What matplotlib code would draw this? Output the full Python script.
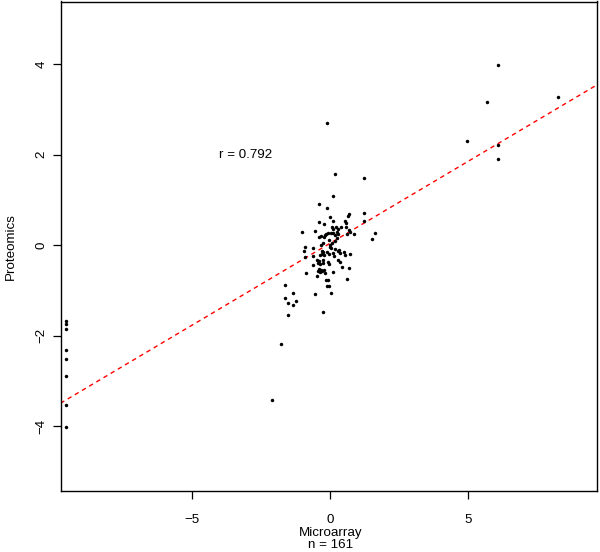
import matplotlib
matplotlib.use("Agg")
import matplotlib.pyplot as plt
import numpy as np

plt.rcParams['font.family'] = ['Liberation Sans', 'DejaVu Sans']

# Microarray (x) and Proteomics (y) values
left_x = [-9.53] * 8
left_y = [-1.67, -1.75, -1.86, -2.32, -2.51, -2.89, -3.52, -4.02]

upper_x = [6.08, 5.68, 8.22, 4.96, 6.08, 6.08]
upper_y = [3.98, 3.15, 3.27, 2.31, 2.22, 1.91]

outlier_x = [-2.09, -1.77]
outlier_y = [-3.43, -2.19]

cluster_x = [-0.10, 0.19, 1.23, 0.11, -0.39, -0.10, 1.22, 0.67, 0.65, 0.00,
             -0.39, -0.20, 0.11, 0.53, 0.58, 1.22, 0.06, 0.12, 0.20, 0.30,
             -0.55, -1.00, 0.40, 0.59, 0.67, 0.24, 0.30, 0.18, 0.12, -0.17,
             -0.23, -0.40, -0.32, 0.02, 0.71, 0.85, 0.60, 1.64, 1.52, 0.24,
             0.19, 0.08, -0.02, -0.24, -0.34, -0.90, -0.95, 0.00, 0.04, 0.19,
             0.28, 0.32, -0.12, -0.24, -0.30, -0.36, -0.20, 0.52, 0.55, 0.71,
             0.12, 0.16, -0.60, -0.91, -0.47, -0.40, -0.42, -0.35, -0.26, -0.24,
             -0.06, -0.02, 0.30, 0.35, -0.60, 0.42, -0.41, -0.34, -0.28, -0.20,
             -0.42, -0.36, 0.12, -0.88, -0.47, 0.70, 0.61, -0.14, -0.06, -0.12,
             -0.02, 0.02, -0.54, -1.62, -1.34, -1.61, -1.22, -1.53, -1.34, -1.52,
             -0.24, -0.16, -0.06, 0.00, -0.60, -0.02, 0.36, -0.18, -0.30]
cluster_y = [2.69, 1.58, 1.48, 1.08, 0.90, 0.81, 0.71, 0.69, 0.65, 0.61,
             0.50, 0.47, 0.54, 0.54, 0.48, 0.53, 0.40, 0.36, 0.40, 0.36,
             0.31, 0.29, 0.41, 0.39, 0.33, 0.29, 0.24, 0.22, 0.27, 0.22,
             0.18, 0.17, 0.20, 0.26, 0.29, 0.24, 0.24, 0.27, 0.14, 0.15,
             0.10, 0.04, 0.11, 0.04, 0.01, -0.04, -0.13, -0.04, -0.07, -0.09,
             -0.12, -0.10, -0.15, -0.16, -0.20, -0.22, -0.22, -0.16, -0.21, -0.20,
             -0.18, -0.23, -0.25, -0.27, -0.33, -0.36, -0.40, -0.42, -0.39, -0.32,
             -0.38, -0.42, -0.33, -0.37, -0.43, -0.48, -0.52, -0.55, -0.57, -0.54,
             -0.57, -0.60, -0.59, -0.62, -0.68, -0.51, -0.74, -0.77, -0.76, -0.90,
             -0.91, -1.06, -1.09, -0.89, -1.05, -1.17, -1.23, -1.27, -1.33, -1.55,
             -1.47, 0.24, 0.27, 0.00, -0.07, -0.20, -0.18, -0.61, -0.13]

fit_intercept = 0.04
fit_slope = 0.363
r_label = "r = 0.792"
x_label = "Microarray"
y_label = "Proteomics"
n_label = "n = 161"

x = np.array(left_x + upper_x + outlier_x + cluster_x)
y = np.array(left_y + upper_y + outlier_y + cluster_y)

FS = 9.6
fig = plt.figure(figsize=(6.0, 5.52), dpi=100)
ax = fig.add_axes([60.5 / 600, 1 - 491 / 552, (597 - 60.5) / 600, (491 - 1.5) / 552])

ax.plot(x, y, 'o', color='black', markersize=2.5, markeredgewidth=0, zorder=3)
ax.axline((0, fit_intercept), slope=fit_slope, color='#ff0000', lw=1.0,
          linestyle=(0, (3.2, 2.8)), zorder=2)

ax.set_xlim(-9.73, 9.64)
ax.set_ylim(-5.43, 5.38)
ax.set_xticks([-5, 0, 5])
ax.set_xticklabels(['\u22125', '0', '5'])
ax.set_yticks([-4, -2, 0, 2, 4])
ax.set_yticklabels(['\u22124', '\u22122', '0', '2', '4'], rotation=90, va='center')

for s in ax.spines.values():
    s.set_linewidth(1.0)
ax.tick_params(axis='both', direction='out', length=6, width=0.9, labelsize=FS)
ax.tick_params(axis='x', pad=10.5)
ax.tick_params(axis='y', pad=3.5)

ax.text(-3.05, 1.99, r_label, ha='center', va='center', fontsize=FS)
ax.set_ylabel(y_label, fontsize=FS, labelpad=13)

cx = (330 + 0.5) / 600
t_n = fig.text(cx, 1.0 / 552, n_label, ha='center', va='bottom', fontsize=FS)
fig.canvas.draw()
r = fig.canvas.get_renderer()
n_top = t_n.get_window_extent(r).y1
t_m = fig.text(cx, (n_top + 0.3) / (5.52 * fig.dpi), x_label, ha='center', va='bottom', fontsize=FS)
fig.canvas.draw()
m_top = t_m.get_window_extent(r).y1
tick_bottom = min(t.get_window_extent(r).y0 for t in ax.get_xticklabels())
if tick_bottom < m_top + 0.3:
    d_px = m_top + 0.3 - tick_bottom
    ax.tick_params(axis='x', pad=10.5 - d_px * 72 / fig.dpi)

fig.savefig("out.png", dpi=100)
